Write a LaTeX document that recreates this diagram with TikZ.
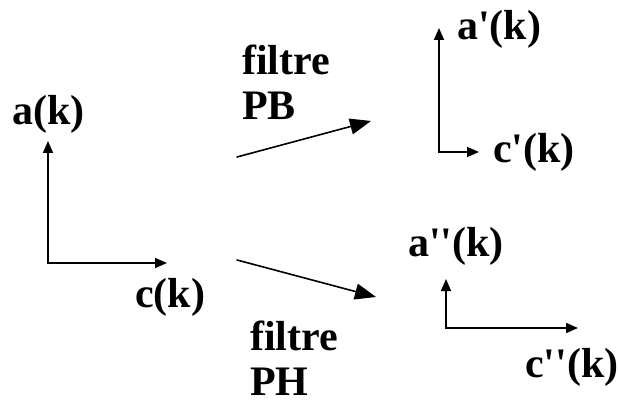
\documentclass[tikz,border=0pt]{standalone}
\usepackage{fontspec}
\setmainfont{Liberation Serif}
\usetikzlibrary{arrows.meta}

\begin{document}
\begin{tikzpicture}[x=1pt,y=-1pt,line cap=round,line join=miter,
  axe/.style={line width=1.6pt,{Triangle[length=12pt,width=10pt]}-{Triangle[length=12pt,width=10pt]}},
  fleche/.style={line width=1.6pt,-{Triangle[length=21pt,width=16pt]}},
  lab/.style={font=\fontsize{42}{45}\bfseries\selectfont,inner sep=0pt,anchor=base west}]
  \useasboundingbox (0,0) rectangle (618,403);
  % the three frames: origin, top of a, end of c
  \foreach \n/\ox/\oy/\ay/\cx in {in/48/263/141/167,pb/439/152/28/479,ph/446/328/279/578}{
    \coordinate (o\n) at (\ox,\oy);
    \coordinate (a\n) at (\ox,\ay);
    \coordinate (c\n) at (\cx,\oy);
    \draw[axe] (a\n) -- (o\n) -- (c\n);
  }
  \node[lab] (ain) at (12,125) {a(k)};
  \node[lab] (cin) at (135,307) {c(k)};
  \node[lab] (apb) at (457,40) {a\textquotesingle(k)};
  \node[lab] (cpb) at (493,163) {c\textquotesingle(k)};
  \node[lab] (aph) at (408,257) {a\textquotesingle\textquotesingle(k)};
  \node[lab] (cph) at (525,377) {c\textquotesingle\textquotesingle(k)};
  % the two filters
  \node[lab,align=left,anchor=north west] (fpb) at (242,45) {filtre\\PB};
  \node[lab,align=left,anchor=north west,text depth=0pt] (fph) at (250,321) {filtre\\PH};
  \coordinate (pbs) at (237,157); \coordinate (pbe) at (371,121);
  \coordinate (phs) at (237,260); \coordinate (phe) at (376,297);
  \draw[fleche] (pbs) -- (pbe);
  \draw[fleche] (phs) -- (phe);
\end{tikzpicture}
\end{document}
